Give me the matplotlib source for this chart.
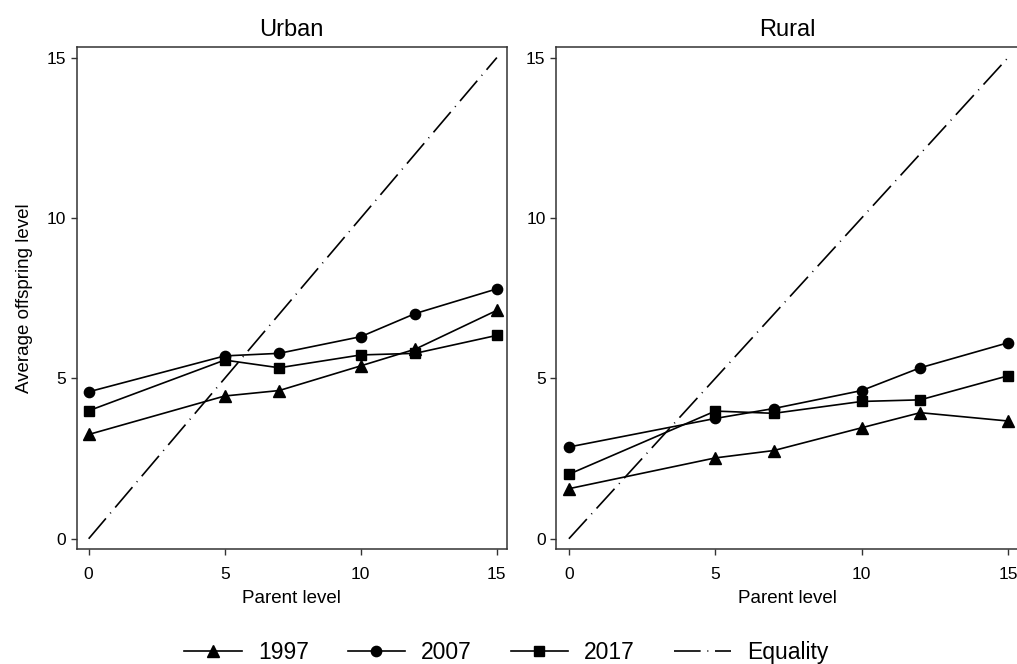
import matplotlib
matplotlib.use("Agg")
import matplotlib.pyplot as plt
from matplotlib.lines import Line2D

plt.rcParams['font.family'] = ['Liberation Sans', 'DejaVu Sans']

# parent level (x) and average offspring level per survey year
parent = [0, 5, 7, 10, 12, 15]

urban_1997 = [3.25, 4.45, 4.62, 5.39, 5.91, 7.12]
urban_2007 = [4.58, 5.70, 5.78, 6.30, 7.02, 7.79]
urban_2017 = [3.99, 5.57, 5.33, 5.73, 5.78, 6.34]

rural_1997 = [1.56, 2.52, 2.75, 3.46, 3.93, 3.67]
rural_2007 = [2.86, 3.75, 4.06, 4.62, 5.33, 6.11]
rural_2017 = [2.01, 3.98, 3.91, 4.28, 4.33, 5.08]

equality = [0, 15]
ticks = [0, 5, 10, 15]
titles = ['Urban', 'Rural']

fig = plt.figure(figsize=(10.17, 6.64), dpi=100)
ax1 = fig.add_axes([0.0754, 0.1727, 0.4228, 0.757])
ax2 = fig.add_axes([0.5467, 0.1727, 0.4549, 0.757])

spine_col = '#333333'
series = [
    ('1997', '^', 8.6),
    ('2007', 'o', 7.4),
    ('2017', 's', 7.0),
]

for ax, title, data in [(ax1, titles[0], [urban_1997, urban_2007, urban_2017]),
                        (ax2, titles[1], [rural_1997, rural_2007, rural_2017])]:
    for (lab, mk, ms), ys in zip(series, data):
        ax.plot(parent, ys, color='black', lw=1.2, marker=mk, ms=ms,
                markerfacecolor='black', markeredgecolor='black', label=lab)
    eq, = ax.plot(equality, equality, color='black', lw=1.2, label='Equality')
    eq.set_dashes((16, 4, 0.6, 4))
    ax.set_xlim(-0.44, 15.36)
    ax.set_ylim(-0.33, 15.34)
    ax.set_xticks(ticks)
    ax.set_yticks(ticks)
    ax.tick_params(direction='out', length=4.5, width=1.0, color=spine_col,
                   labelsize=12.5)
    ax.tick_params(axis='x', pad=8)
    ax.tick_params(axis='y', pad=3)
    for s in ax.spines.values():
        s.set_color(spine_col)
        s.set_linewidth(1.1)
    ax.set_title(title, fontsize=17, pad=8)
    ax.set_xlabel('Parent level', fontsize=13.5, labelpad=6)

ax1.set_ylabel('Average offspring level', fontsize=13.5, labelpad=10)

handles = [Line2D([], [], color='black', lw=1.2, marker=mk, ms=ms)
           for (lab, mk, ms) in series]
eq_h = Line2D([], [], color='black', lw=1.2)
eq_h.set_dashes((16, 4, 0.6, 4))
handles.append(eq_h)
labels = [s[0] for s in series] + ['Equality']

fig.legend(handles, labels, loc='center', bbox_to_anchor=(0.498, 0.018),
           ncol=4, frameon=False, fontsize=16.5, handlelength=2.5,
           handletextpad=0.7, columnspacing=1.7)

fig.savefig('out.png', dpi=100)
